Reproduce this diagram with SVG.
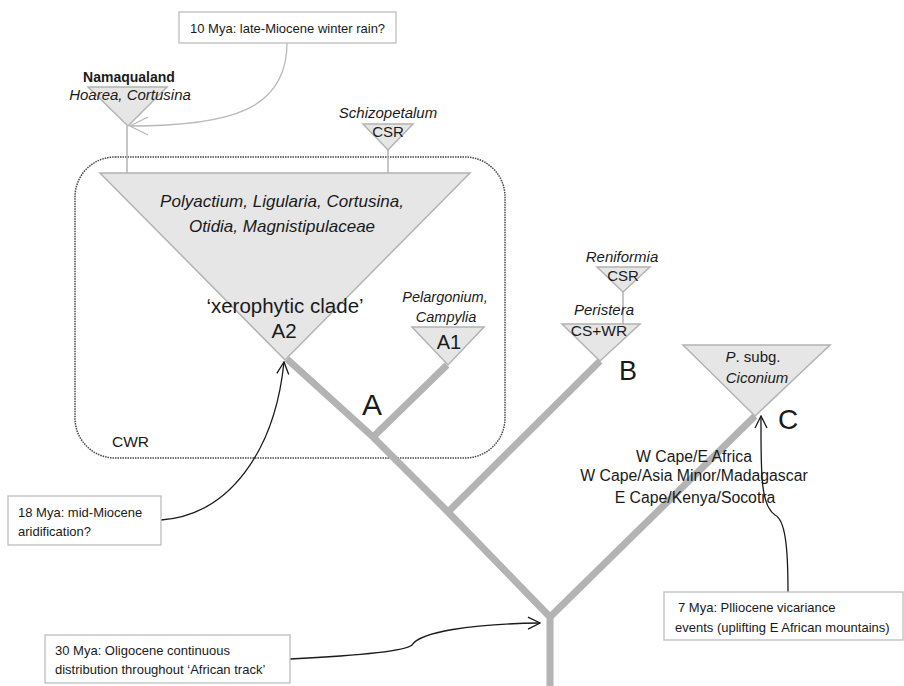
<svg xmlns="http://www.w3.org/2000/svg" width="904" height="686" viewBox="0 0 904 686">
<defs>
<style>
text{font-family:"Liberation Sans",Arial,sans-serif;fill:#1a1a1a}
.it{font-style:italic}
.c{text-anchor:middle}
.tri{fill:#e6e6e6;stroke:#b3b3b3;stroke-width:1.5}
.stem{stroke:#b3b3b3;stroke-width:1.5;fill:none}
.br{stroke:#b3b3b3;stroke-width:7;fill:none;stroke-linejoin:miter}
.box{fill:#fff;stroke:#bdbdbd;stroke-width:1.3}
.arr{fill:none;stroke:#1a1a1a;stroke-width:1.3}
.garr{fill:none;stroke:#b8b8b8;stroke-width:1.3}
.note{font-size:13px}
</style>
<marker id="ah" markerWidth="14" markerHeight="14" refX="13" refY="7" orient="auto" markerUnits="userSpaceOnUse"><path d="M1,1 L13,7 L1,13" fill="none" stroke="#1a1a1a" stroke-width="1.3"/></marker>
<marker id="gah" markerWidth="20" markerHeight="20" refX="19" refY="10" orient="auto" markerUnits="userSpaceOnUse"><path d="M1,1 L19,10 L1,19" fill="none" stroke="#b8b8b8" stroke-width="1.3"/></marker>
</defs>

<g id="cwr-region">
<rect x="75" y="157" width="430" height="301" rx="40" ry="40" fill="none" stroke="#444" stroke-width="1.5" stroke-dasharray="1.5 1"/>
<text x="112" y="447" font-size="15.5">CWR</text>
</g>

<g id="connectors">
<polyline class="br" points="550,686 550,617 448,512 373,437 287,359"/>
<line class="br" x1="373" y1="437" x2="447" y2="365"/>
<line class="br" x1="448" y1="512" x2="600" y2="361"/>
<line class="br" x1="550" y1="617" x2="755" y2="416"/>
<line class="stem" x1="127" y1="126" x2="127" y2="173"/>
<line class="stem" x1="388" y1="150" x2="388" y2="173"/>
<line class="stem" x1="623" y1="292" x2="623" y2="324"/>
<path class="garr" d="M287,43 C287,110 230,126 130,126" marker-end="url(#gah)"/>
<path class="arr" d="M161,520 C230,515 275,450 284,362" marker-end="url(#ah)"/>
<path class="arr" d="M290,659 C350,656 405,652 412,645 C420,632 470,624 540,623" marker-end="url(#ah)"/>
<path class="arr" d="M788,592 C788,545 785,520 775,515 C760,505 761,470 761,416" marker-end="url(#ah)"/>
</g>

<g id="node-namaqualand">
<polygon class="tri" points="88,87 167,87 128,126"/>
<text class="c" x="129" y="82" font-size="14" font-weight="bold">Namaqualand</text>
<text class="c it" x="130" y="100" font-size="15">Hoarea, Cortusina</text>
</g>

<g id="node-schizopetalum">
<polygon class="tri" points="363,124 413,124 388,150"/>
<text class="c it" x="388" y="118" font-size="15">Schizopetalum</text>
<text class="c" x="388" y="137" font-size="15">CSR</text>
</g>

<g id="node-A2">
<polygon class="tri" points="100,173 470,173 285,360"/>
<text class="c it" x="282" y="207" font-size="17">Polyactium, Ligularia, Cortusina,</text>
<text class="c it" x="282" y="232" font-size="17">Otidia, Magnistipulaceae</text>
<text class="c" x="285" y="313" font-size="20.5">‘xerophytic clade’</text>
<text class="c" x="284" y="338" font-size="20.5">A2</text>
</g>

<g id="node-A1">
<polygon class="tri" points="412,327 484,327 448,365"/>
<text class="c it" x="445" y="302" font-size="14.5">Pelargonium,</text>
<text class="c it" x="446" y="322" font-size="14.5">Campylia</text>
<text class="c" x="449" y="349" font-size="20">A1</text>
</g>

<g id="label-A"><text class="c" x="372" y="415" font-size="30">A</text></g>

<g id="node-reniformia">
<polygon class="tri" points="597,267 650,267 623,292"/>
<text class="c it" x="622" y="262" font-size="15">Reniformia</text>
<text class="c" x="623" y="281" font-size="15">CSR</text>
</g>

<g id="node-peristera">
<polygon class="tri" points="562,324 640,324 600,361"/>
<text class="c it" x="604" y="315" font-size="15">Peristera</text>
<text class="c" x="599" y="336" font-size="15.5">CS+WR</text>
</g>

<g id="label-B"><text class="c" x="628" y="380" font-size="27">B</text></g>

<g id="node-ciconium">
<polygon class="tri" points="683,345 830,345 755,416"/>
<text class="c" x="753" y="362" font-size="15"><tspan class="it">P</tspan>. subg.</text>
<text class="c it" x="757" y="383" font-size="15">Ciconium</text>
</g>

<g id="label-C"><text class="c" x="788" y="429" font-size="28">C</text></g>

<g id="distribution">
<text class="c" x="694" y="462" font-size="15.8">W Cape/E Africa</text>
<text class="c" x="694" y="481" font-size="15.8">W Cape/Asia Minor/Madagascar</text>
<text class="c" x="695" y="503" font-size="15.8">E Cape/Kenya/Socotra</text>
</g>

<g id="note-10mya">
<rect class="box" x="179" y="12" width="217" height="31"/>
<text class="note" x="190" y="33">10 Mya: late-Miocene winter rain?</text>
</g>

<g id="note-18mya">
<rect class="box" x="8" y="496" width="153" height="49"/>
<text class="note" x="18" y="517">18 Mya: mid-Miocene</text>
<text class="note" x="18" y="536">aridification?</text>
</g>

<g id="note-30mya">
<rect class="box" x="45" y="635" width="245" height="48"/>
<text class="note" x="55" y="655">30 Mya: Oligocene continuous</text>
<text class="note" x="55" y="674">distribution throughout ‘African track’</text>
</g>

<g id="note-7mya">
<rect class="box" x="664" y="592" width="239" height="48"/>
<text class="note" x="678" y="612">7 Mya: Plliocene vicariance</text>
<text class="note" x="675" y="632">events (uplifting E African mountains)</text>
</g>
</svg>
